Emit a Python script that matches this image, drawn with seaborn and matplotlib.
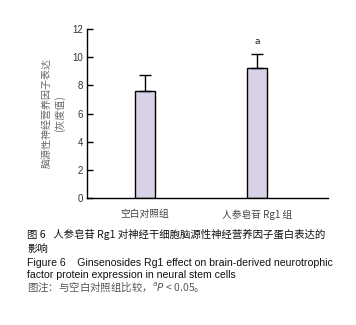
import numpy as np
import pandas as pd
import matplotlib
matplotlib.use('Agg')
import matplotlib.pyplot as plt
import seaborn as sns

# 数据
groups = ['空白对照组', '人参皂苷 Rg1 组']
means = [7.6, 9.2]
sds = [1.1, 1.0]
marks = ['', 'a']

sns.set_style('white')
plt.rcParams['font.family'] = ['Noto Sans CJK SC', 'DejaVu Sans']
plt.rcParams['axes.unicode_minus'] = False

df = pd.DataFrame({'group': groups, 'mean': means})

fig = plt.figure(figsize=(3.56, 3.25), dpi=100)
ax = fig.add_axes([87/356, 1-198/325, (328-87)/356, (198-29)/325])

sns.barplot(data=df, x='group', y='mean', color='#d9d1e8', width=0.17,
            edgecolor='black', linewidth=1.0, saturation=1, ax=ax)
ax.errorbar(range(len(groups)), means, yerr=[np.zeros(2), sds], fmt='none',
            ecolor='black', elinewidth=1.0, capsize=4, capthick=1.0)
for i, m in enumerate(marks):
    if m:
        ax.text(i, means[i] + sds[i] + 0.6, m, ha='center', va='bottom',
                fontsize=6.5, family='DejaVu Sans', color='#222222')

ax.set_xlim(-0.518, 1.634)
ax.set_ylim(0, 12)
ax.set_yticks(range(0, 13, 2))
ax.set_xticks([0, 1])
ax.set_xticks([0.44, 1.634], minor=True)
ax.tick_params(axis='x', which='major', length=0, pad=8, labelsize=7, labelcolor='#444444')
ax.tick_params(axis='x', which='minor', direction='in', length=4, width=1, color='black')
ax.tick_params(axis='y', direction='in', length=4, width=1, color='black',
               labelsize=7, labelcolor='#333333', left=True, pad=3)
for lab in ax.get_yticklabels():
    lab.set_family('Liberation Sans')
ax.set_xlabel('')
ax.set_ylabel('脑源性神经营养因子表达\n(灰度值)', fontsize=7.2, color='#666666',
              labelpad=5, linespacing=1.3)
sns.despine(ax=ax)
for s in ['left', 'bottom']:
    ax.spines[s].set_linewidth(1.0)
    ax.spines[s].set_color('black')

# 图题
cap_x = 27/356
fig.text(cap_x, 1-235/325, '图 6\u2002 人参皂苷 Rg1 对神经干细胞脑源性神经营养因子蛋白表达的',
         fontsize=7.5, va='center', color='#111111')
fig.text(cap_x, 1-249/325, '影响', fontsize=7.5, va='center', color='#111111')
fig.text(cap_x, 1-263/325, 'Figure 6    Ginsenosides Rg1 effect on brain-derived neurotrophic',
         fontsize=7.6, va='center', color='#111111', family='Liberation Sans')
fig.text(cap_x, 1-275/325, 'factor protein expression in neural stem cells',
         fontsize=7.6, va='center', color='#111111', family='Liberation Sans')
fig.text(cap_x, 1-287/325, '图注：与空白对照组比较，$^{a}$$\\it{P}$ < 0.05。',
         fontsize=7.5, va='center', color='#555555')

fig.savefig('out.png', dpi=100)
